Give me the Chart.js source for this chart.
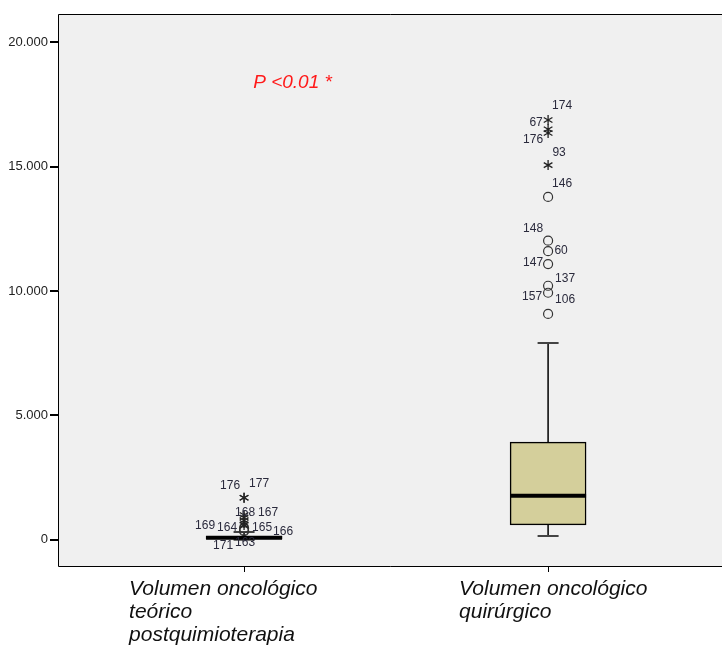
<!DOCTYPE html>
<html>
<head>
<meta charset="utf-8">
<script src="https://cdn.jsdelivr.net/npm/chart.js@4.4.1/dist/chart.umd.min.js"></script>
<style>
  html, body { margin: 0; padding: 0; background: #fff; }
</style>
</head>
<body>
<canvas id="boxChart" width="722" height="647"></canvas>
<script>
// two groups, x positions 0 and 1
const categories = [
  ["Volumen oncológico", "teórico", "postquimioterapia"],
  ["Volumen oncológico", "quirúrgico"]
];
const q1 = [40, 600];
const median = [90, 1770];
const q3 = [140, 3930];
const whiskerLow = [0, 160];
const whiskerHigh = [320, 7910];

// outliers (circles)
const outlierGroup = [0, 0, 0, 1, 1, 1, 1, 1, 1, 1];
const outlierValues = [470, 380, 350, 13780, 12020, 11600, 11080, 10210, 9930, 9080];
const outlierIds = ["166", "171", "163", "146", "148", "60", "147", "137", "157", "106"];

// extremes (stars)
const extremeGroup = [0, 0, 0, 0, 0, 0, 0, 1, 1, 1, 1];
const extremeValues = [1690, 1690, 1000, 900, 780, 680, 600, 16870, 16500, 16350, 15060];
const extremeIds = ["176", "177", "168", "167", "169", "164", "165", "174", "67", "176", "93"];

const yTicks = [0, 5000, 10000, 15000, 20000];
const pValueText = "P <0.01 *";

// label placement (px offsets from the point)
const outlierLabelOffsets = [[39, 4], [-21, 15], [1, 12], [14, -13], [-15, -12], [13, 0], [-15, -1], [17, -7], [-16, 4], [17, -14]];
const extremeLabelOffsets = [[-14, -12], [15, -14], [1, -2], [24, -5], [-39, 5], [-17, 5], [18, 3], [14, -14], [-12, -7], [-15, 7], [11, -12]];
const xLabelOffsets = [-115, -89];

const FONT = 'Arial, "Liberation Sans", sans-serif';

function fmt(v) {
  return String(v).replace(/\B(?=(\d{3})+(?!\d))/g, ".");
}

// six-armed asterisk like the SPSS extreme marker
function drawAsterisk(ctx, x, y, r) {
  ctx.beginPath();
  for (let k = 0; k < 3; k++) {
    const ang = Math.PI / 2 + k * Math.PI / 3;
    ctx.moveTo(x + Math.cos(ang) * r, y - Math.sin(ang) * r);
    ctx.lineTo(x - Math.cos(ang) * r, y + Math.sin(ang) * r);
  }
  ctx.stroke();
}

const boxPlugin = {
  id: "boxPlugin",
  beforeDraw(chart) {
    const { ctx, chartArea: a } = chart;
    ctx.save();
    ctx.fillStyle = "#f0f0f0";
    ctx.fillRect(a.left, a.top, a.right - a.left, a.bottom - a.top);
    ctx.restore();
  },
  beforeDatasetsDraw(chart) {
    const { ctx } = chart;
    const xs = chart.scales.x, ys = chart.scales.y;
    ctx.save();
    for (let i = 0; i < q1.length; i++) {
      const x = xs.getPixelForValue(i);
      ctx.strokeStyle = "#000";
      ctx.lineWidth = 1.5;
      ctx.beginPath();
      ctx.moveTo(x, ys.getPixelForValue(q3[i]));
      ctx.lineTo(x, ys.getPixelForValue(whiskerHigh[i]));
      ctx.moveTo(x, ys.getPixelForValue(q1[i]));
      ctx.lineTo(x, ys.getPixelForValue(whiskerLow[i]));
      ctx.stroke();
      ctx.strokeStyle = "#444";
      ctx.lineWidth = 2;
      ctx.beginPath();
      ctx.moveTo(x - 10.5, ys.getPixelForValue(whiskerHigh[i]));
      ctx.lineTo(x + 10.5, ys.getPixelForValue(whiskerHigh[i]));
      ctx.moveTo(x - 10.5, ys.getPixelForValue(whiskerLow[i]));
      ctx.lineTo(x + 10.5, ys.getPixelForValue(whiskerLow[i]));
      ctx.stroke();
    }
    ctx.restore();
  },
  afterDatasetsDraw(chart) {
    const { ctx, chartArea: a } = chart;
    const xs = chart.scales.x, ys = chart.scales.y;
    ctx.save();
    // extremes as asterisks, placed through the scatter dataset's points
    const meta = chart.getDatasetMeta(2);
    ctx.strokeStyle = "#222";
    ctx.lineWidth = 1.3;
    meta.data.forEach((pt) => drawAsterisk(ctx, pt.x, pt.y, 5));
    // medians
    ctx.strokeStyle = "#000";
    ctx.lineWidth = 4;
    for (let i = 0; i < median.length; i++) {
      const x = xs.getPixelForValue(i);
      const y = ys.getPixelForValue(median[i]);
      ctx.beginPath();
      ctx.moveTo(x - 38, y);
      ctx.lineTo(x + 38, y);
      ctx.stroke();
    }
    // case labels
    ctx.font = "12px " + FONT;
    ctx.fillStyle = "#2a2a3c";
    ctx.textAlign = "center";
    ctx.textBaseline = "middle";
    outlierValues.forEach((v, i) => {
      const x = xs.getPixelForValue(outlierGroup[i]);
      const y = ys.getPixelForValue(v);
      ctx.fillText(outlierIds[i], x + outlierLabelOffsets[i][0], y + outlierLabelOffsets[i][1]);
    });
    extremeValues.forEach((v, i) => {
      const x = xs.getPixelForValue(extremeGroup[i]);
      const y = ys.getPixelForValue(v);
      ctx.fillText(extremeIds[i], x + extremeLabelOffsets[i][0], y + extremeLabelOffsets[i][1]);
    });
    // p value
    ctx.font = "italic 19px " + FONT;
    ctx.fillStyle = "#ff1a1a";
    ctx.textAlign = "left";
    ctx.fillText(pValueText, xs.getPixelForValue(0.03), ys.getPixelForValue(18350));
    // frame: left, top and bottom (right side is cut off in the original)
    ctx.strokeStyle = "#000";
    ctx.lineWidth = 1;
    ctx.beginPath();
    ctx.moveTo(a.right, a.top + 0.5);
    ctx.lineTo(a.left + 0.5, a.top + 0.5);
    ctx.lineTo(a.left + 0.5, a.bottom + 0.5);
    ctx.lineTo(a.right, a.bottom + 0.5);
    ctx.stroke();
    // category labels, left aligned block under each tick
    ctx.font = "italic 21px " + FONT;
    ctx.fillStyle = "#111";
    ctx.textBaseline = "middle";
    categories.forEach((lines, i) => {
      const x = xs.getPixelForValue(i) + xLabelOffsets[i];
      lines.forEach((t, j) => ctx.fillText(t, x, a.bottom + 23 + j * 23));
    });
    ctx.restore();
  }
};

new Chart(document.getElementById("boxChart"), {
  type: "bar",
  data: {
    datasets: [
      {
        type: "bar",
        data: q1.map((v, i) => ({ x: i, y: [v, q3[i]] })),
        backgroundColor: "#d4cf9b",
        borderColor: "#000",
        borderWidth: 1.5,
        borderSkipped: false,
        barThickness: 76,
        grouped: false
      },
      {
        type: "scatter",
        data: outlierValues.map((v, i) => ({ x: outlierGroup[i], y: v })),
        pointStyle: "circle",
        pointRadius: 4.5,
        borderColor: "#333",
        borderWidth: 1.2,
        backgroundColor: "rgba(0,0,0,0)"
      },
      {
        type: "scatter",
        data: extremeValues.map((v, i) => ({ x: extremeGroup[i], y: v })),
        pointRadius: 0,
        borderWidth: 0
      }
    ]
  },
  options: {
    responsive: false,
    animation: false,
    layout: { autoPadding: false, padding: { top: 14, right: 0, left: 0, bottom: 0 } },
    plugins: { legend: { display: false }, tooltip: { enabled: false } },
    scales: {
      x: {
        type: "linear",
        offset: false,
        min: -0.612,
        max: 1.572,
        afterBuildTicks: (s) => { s.ticks = categories.map((c, i) => ({ value: i })); },
        afterFit: (s) => { s.height = 81; s.paddingLeft = 0; s.paddingRight = 0; },
        ticks: { display: false },
        border: { display: false },
        grid: { offset: false, drawOnChartArea: false, drawTicks: true, tickLength: 6, color: "#000", lineWidth: 1 }
      },
      y: {
        min: -1050,
        max: 21130,
        afterBuildTicks: (s) => { s.ticks = yTicks.map((v) => ({ value: v })); },
        afterFit: (s) => { s.width = 58; s.paddingTop = 0; s.paddingBottom = 0; },
        ticks: {
          callback: (v) => fmt(v),
          font: { family: FONT, size: 13 },
          color: "#222",
          padding: 2
        },
        border: { display: false },
        grid: { drawOnChartArea: false, drawTicks: true, tickLength: 8, color: "#000", lineWidth: 2 }
      }
    }
  },
  plugins: [boxPlugin]
});
</script>
</body>
</html>
